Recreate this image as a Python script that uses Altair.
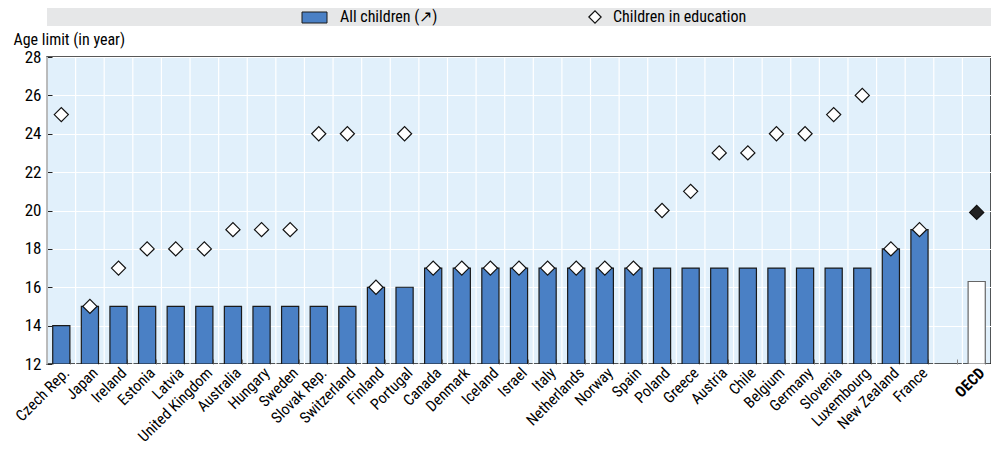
import altair as alt
import pandas as pd

countries = ["Czech Rep.", "Japan", "Ireland", "Estonia", "Latvia", "United Kingdom",
             "Australia", "Hungary", "Sweden", "Slovak Rep.", "Switzerland", "Finland",
             "Portugal", "Canada", "Denmark", "Iceland", "Israel", "Italy", "Netherlands",
             "Norway", "Spain", "Poland", "Greece", "Austria", "Chile", "Belgium",
             "Germany", "Slovenia", "Luxembourg", "New Zealand", "France", " ", "OECD"]
all_children = [14, 15, 15, 15, 15, 15, 15, 15, 15, 15, 15, 16, 16, 17, 17, 17, 17, 17, 17,
                17, 17, 17, 17, 17, 17, 17, 17, 17, 17, 18, 19, None, 16.3]
in_education = [25, 15, 17, 18, 18, 18, 19, 19, 19, 24, 24, 16, 24, 17, 17, 17, 17, 17, 17,
                17, 17, 20, 21, 23, 23, 24, 24, 25, 26, 18, 19, None, 19.9]
is_oecd = [c == "OECD" for c in countries]

df = pd.DataFrame({"country": countries, "all": all_children,
                   "edu": in_education, "oecd": is_oecd})

FONT = "Liberation Sans Narrow, Roboto Condensed, Arial Narrow, sans-serif"
W, H = 944, 307
BLUE = "#4a80c5"
STEP = W / len(countries)

label_expr = "datum.value == 'OECD' ? 'bold' : 'normal'"

x_axis = alt.Axis(labelAngle=-45, labelFont=FONT, labelFontSize=15.5,
                  labelColor="#000", tickBand="extent", grid=False, domain=False,
                  offset=-5, tickSize=5, tickColor="#888", labelPadding=1,
                  labelOverlap=False, labelFontWeight=alt.ExprRef(label_expr))
x_scale = alt.Scale(domain=countries, paddingInner=0.4, paddingOuter=0.2)
y_scale = alt.Scale(domain=[12, 28], nice=False, zero=False)
y_axis = alt.Axis(values=list(range(12, 29, 2)), labelFont=FONT, labelFontSize=17,
                  labelColor="#000", grid=True, gridColor="#ffffff", gridWidth=1.2,
                  domain=False, offset=-5, tickSize=5, tickColor="#222",
                  labelPadding=6, labelOverlap=False, title="Age limit (in year)",
                  titleAngle=0, titleFont=FONT, titleFontSize=16,
                  titleFontWeight="normal", titleAlign="left",
                  titleBaseline="alphabetic", titleX=-39, titleY=-13, titleColor="#000")

x_enc = alt.X("country:N", sort=countries, title=None, scale=x_scale, axis=x_axis)

base = alt.Chart(df)

vgrid = base.mark_rule(color="#ffffff", strokeWidth=1.2, xOffset=-STEP / 2).encode(
    x=x_enc, y=alt.value(0), y2=alt.value(H))

bars = base.mark_bar(strokeWidth=1.2, clip=True).encode(
    x=x_enc,
    y=alt.Y("all:Q", scale=y_scale, axis=y_axis),
    y2=alt.datum(12),
    fill=alt.condition("datum.oecd", alt.value("#ffffff"), alt.value(BLUE)),
    stroke=alt.condition("datum.oecd", alt.value("#666666"), alt.value("#1a1a1a")),
).transform_filter("isValid(datum.all)")

points = base.mark_point(shape="diamond", size=200, filled=True, strokeWidth=1.2,
                         stroke="#111", opacity=1).encode(
    x=x_enc,
    y=alt.Y("edu:Q", scale=y_scale, axis=y_axis),
    fill=alt.condition("datum.oecd", alt.value("#222222"), alt.value("#ffffff")),
).transform_filter("isValid(datum.edu)")

one = alt.Data(values=[{"k": 1}])
band = alt.Chart(one).mark_rect(color="#e6e7e8").encode(
    x=alt.value(0), x2=alt.value(W), y=alt.value(-49), y2=alt.value(-31))
leg_rect = alt.Chart(one).mark_rect(color=BLUE, stroke="#1a1a1a", strokeWidth=1).encode(
    x=alt.value(255), x2=alt.value(280), y=alt.value(-45), y2=alt.value(-34))
leg_text1 = alt.Chart(one).mark_text(text="All children (\u2197)", font=FONT, fontSize=16,
                                     align="left", baseline="middle", color="#000").encode(
    x=alt.value(293), y=alt.value(-40))
leg_diam = alt.Chart(one).mark_point(shape="diamond", size=150, filled=True, fill="#fff",
                                     stroke="#111", strokeWidth=1.2, opacity=1).encode(
    x=alt.value(548), y=alt.value(-40))
leg_text2 = alt.Chart(one).mark_text(text="Children in education", font=FONT, fontSize=16,
                                     align="left", baseline="middle", color="#000").encode(
    x=alt.value(566), y=alt.value(-40))

chart = alt.layer(band, leg_rect, leg_text1, leg_diam, leg_text2, vgrid, bars, points).properties(
    width=W, height=H,
    autosize=alt.AutoSizeParams(type="none"),
    padding={"left": 39, "top": 49, "right": 0, "bottom": 86},
).configure_view(fill="#e1f0fb", stroke="#222", strokeWidth=1.5)

chart.save("out.html", embed_options={"renderer": "svg", "actions": False})
